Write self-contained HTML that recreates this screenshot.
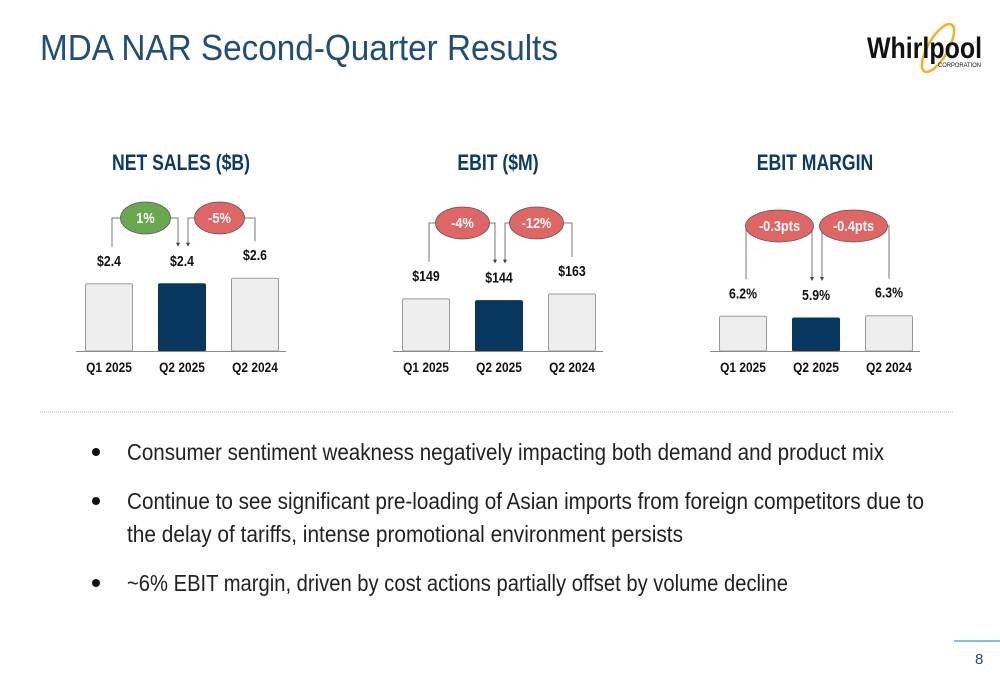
<!DOCTYPE html>
<html><head><meta charset="utf-8"><style>
html,body{margin:0;padding:0;background:#fff;}
svg{display:block;font-family:"Liberation Sans Narrow","Liberation Sans",sans-serif;}
</style></head><body>
<svg id="s" width="1000" height="685" viewBox="0 0 1000 685" xmlns="http://www.w3.org/2000/svg">
<text x="40" y="60" font-size="36" fill="#1f4e79" font-family="Liberation Sans Narrow, Liberation Sans, sans-serif" textLength="518" lengthAdjust="spacingAndGlyphs">MDA NAR Second-Quarter Results</text>
<g>
<ellipse cx="938" cy="48" rx="10" ry="27" transform="rotate(30 938 48)" fill="none" stroke="#f0b323" stroke-width="2.5"/>
<text x="867" y="58" font-size="30" font-weight="bold" fill="#111" font-family="Liberation Sans Narrow, Liberation Sans, sans-serif" textLength="115" lengthAdjust="spacingAndGlyphs">Whirlpool</text>
<text x="938" y="67" font-size="6" fill="#111" font-family="Liberation Sans, sans-serif" textLength="43" lengthAdjust="spacingAndGlyphs">CORPORATION</text>
</g>
<g id="charts"></g>
<line x1="40" y1="412" x2="953" y2="412" stroke="#9dc3d9" stroke-width="1" stroke-dasharray="1,1"/>
<g font-size="23" fill="#222">
<circle cx="96" cy="452" r="4" fill="#111"/>
<text x="127" y="460" textLength="757" lengthAdjust="spacingAndGlyphs">Consumer sentiment weakness negatively impacting both demand and product mix</text>
<circle cx="96" cy="501" r="4" fill="#111"/>
<text x="127" y="509" textLength="797" lengthAdjust="spacingAndGlyphs">Continue to see significant pre-loading of Asian imports from foreign competitors due to</text>
<text x="127" y="542" textLength="556" lengthAdjust="spacingAndGlyphs">the delay of tariffs, intense promotional environment persists</text>
<circle cx="96" cy="583" r="4" fill="#111"/>
<text x="127" y="591" textLength="661" lengthAdjust="spacingAndGlyphs">~6% EBIT margin, driven by cost actions partially offset by volume decline</text>
</g>
<line x1="954" y1="641" x2="1000" y2="641" stroke="#5aa7d6" stroke-width="1.5"/>
<text x="975" y="664" font-size="15" fill="#1f4e79">8</text>
</svg>
<script>
const categories = ["Q1 2025","Q2 2025","Q2 2024"];
const salesValues = [2.4, 2.4, 2.6];
const salesLabels = ["$2.4","$2.4","$2.6"];
const salesChanges = ["1%","-5%"];
const ebitValues = [149, 144, 163];
const ebitLabels = ["$149","$144","$163"];
const ebitChanges = ["-4%","-12%"];
const marginValues = [6.2, 5.9, 6.3];
const marginLabels = ["6.2%","5.9%","6.3%"];
const marginChanges = ["-0.3pts","-0.4pts"];
const titles = ["NET SALES ($B)","EBIT ($M)","EBIT MARGIN"];

const NS="http://www.w3.org/2000/svg";
const root=document.getElementById('charts');
function mk(tag,attrs,parent){const e=document.createElementNS(NS,tag);for(const k in attrs)e.setAttribute(k,attrs[k]);parent.appendChild(e);return e;}
function narrow(el,f){const w=el.getComputedTextLength();el.setAttribute('textLength',(w*f).toFixed(1));el.setAttribute('lengthAdjust','spacingAndGlyphs');}

const specs=[
 {x0:76, vals:salesValues, labels:salesLabels, chg:salesChanges, scale:28, colors:["#6aa84f","#e06666"], by:218, rx:25, name:"net-sales"},
 {x0:393, vals:ebitValues, labels:ebitLabels, chg:ebitChanges, scale:0.35, colors:["#e06666","#e06666"], by:223, rx:27, name:"ebit"},
 {x0:710, vals:marginValues, labels:marginLabels, chg:marginChanges, scale:5.6, colors:["#e06666","#e06666"], by:226, rx:34, name:"ebit-margin"}
];
const base=351, bw=47;
specs.forEach((sp,ci)=>{
 const g=mk('g',{},root);
 
 
 const cx=i=>sp.x0+33+i*73;
 const y=v=>base-v*sp.scale;
 const t=mk('text',{x:sp.x0+105,y:170,'text-anchor':'middle','font-size':22,'font-weight':'bold',fill:'#0b3a66'},g);
 t.textContent=titles[ci];
 
 
 narrow(t,0.8);
 sp.vals.forEach((v,i)=>{
  const r=mk('rect',{x:cx(i)-bw/2,y:y(v),width:bw,height:v*sp.scale,rx:1.5,fill:i==1?'#07365f':'#eeeeee',stroke:i==1?'#07365f':'#9a9a9a','stroke-width':1},g);
  
  
  const l=mk('text',{x:cx(i),y:y(v)-18,'text-anchor':'middle','font-size':15,'font-weight':'bold',fill:'#111'},g);
  l.textContent=sp.labels[i];
  
  
  narrow(l,0.82);
  const c=mk('text',{x:cx(i),y:372,'text-anchor':'middle','font-size':14,'font-weight':'bold',fill:'#111'},g);
  c.textContent=categories[i];
  
  
  narrow(c,0.85);
 });
 const ax=mk('line',{x1:sp.x0,y1:base+0.5,x2:sp.x0+210,y2:base+0.5,stroke:'#888','stroke-width':1},g);
 
 
 [[0,1],[2,1]].forEach((pair,k)=>{
  const a=pair[0];
  const ex = k==0 ? (cx(0)+cx(1))/2 : (cx(1)+cx(2))/2+1;
  const lblTop=y(sp.vals[a])-37;
  const arrowY=y(sp.vals[1])-38;
  const sideA = k==0 ? cx(0)+3 : cx(2);
  const sideB = k==0 ? cx(1)-4 : cx(1)+6;
  const eA = k==0 ? ex-sp.rx : ex+sp.rx;
  const eB = k==0 ? ex+sp.rx : ex-sp.rx;
  mk('polyline',{points:`${sideA},${lblTop} ${sideA},${sp.by} ${eA},${sp.by}`,fill:'none',stroke:'#777','stroke-width':1},g);
  mk('polyline',{points:`${eB},${sp.by} ${sideB},${sp.by} ${sideB},${arrowY}`,fill:'none',stroke:'#777','stroke-width':1},g);
  mk('path',{d:`M${sideB-2},${arrowY-3} L${sideB+2},${arrowY-3} L${sideB},${arrowY+1} Z`,fill:'#444'},g);
  const el=mk('ellipse',{cx:ex,cy:sp.by,rx:sp.rx,ry:16,fill:sp.colors[k],stroke:'#555','stroke-width':0.8},g);
  
  
  const tx=mk('text',{x:ex,y:sp.by+5,'text-anchor':'middle','font-size':15,'font-weight':'bold',fill:'#fff'},g);
  tx.textContent=sp.chg[k];
  
  
  narrow(tx,0.85);
 });
});
</script>
</body></html>
